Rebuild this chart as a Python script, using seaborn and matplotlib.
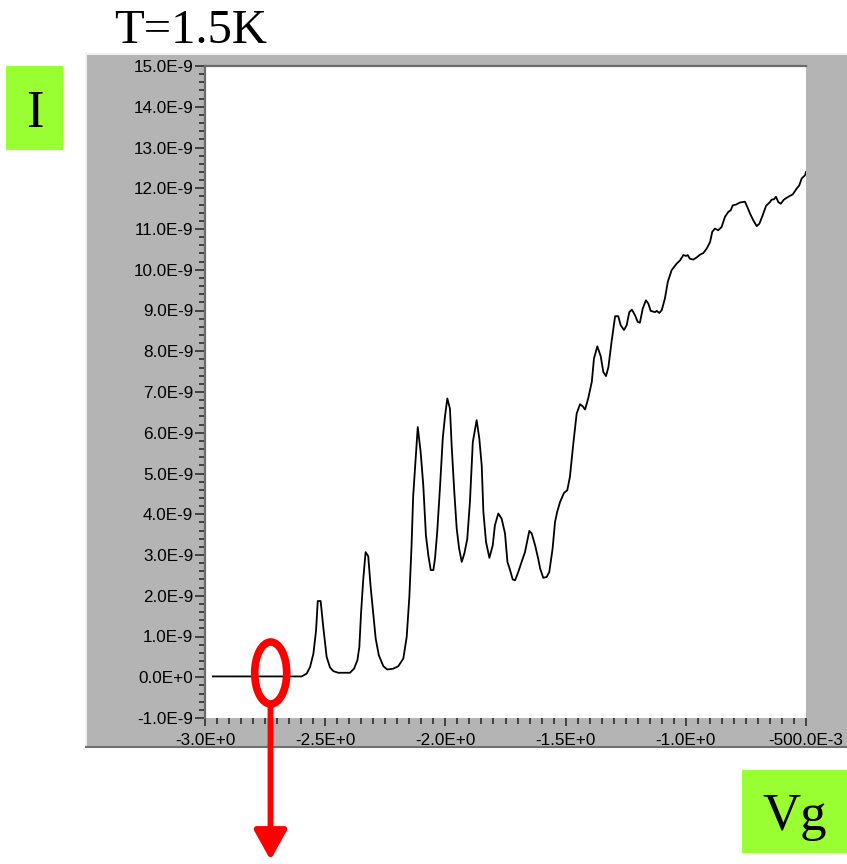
import numpy as np
import pandas as pd
import matplotlib
matplotlib.use("Agg")
import matplotlib.pyplot as plt
import seaborn as sns
from matplotlib.patches import Rectangle, Ellipse
from matplotlib.lines import Line2D
from matplotlib.ticker import FixedLocator, MultipleLocator

# ---- data (Vg in volts, I in nA) ----
vg = [-2.967, -2.598, -2.577, -2.563, -2.549, -2.538, -2.531, -2.519, -2.508, -2.494,
      -2.480, -2.466, -2.446, -2.397, -2.380, -2.366, -2.358, -2.351, -2.342, -2.332,
      -2.321, -2.311, -2.300, -2.290, -2.277, -2.258, -2.242, -2.217, -2.196, -2.175,
      -2.161, -2.150, -2.141, -2.134, -2.115, -2.103, -2.092, -2.081, -2.071, -2.061,
      -2.050, -2.043, -2.034, -2.022, -2.011, -2.002, -1.992, -1.981, -1.974, -1.963,
      -1.953, -1.943, -1.932, -1.921, -1.909, -1.898, -1.886, -1.870, -1.859, -1.849,
      -1.842, -1.831, -1.817, -1.803, -1.794, -1.780, -1.766, -1.752, -1.742, -1.731,
      -1.720, -1.710, -1.697, -1.683, -1.669, -1.651, -1.641, -1.627, -1.614, -1.606,
      -1.593, -1.579, -1.568, -1.554, -1.544, -1.535, -1.523, -1.507, -1.493, -1.482,
      -1.468, -1.454, -1.440, -1.429, -1.419, -1.406, -1.391, -1.382, -1.368, -1.354,
      -1.343, -1.332, -1.322, -1.308, -1.294, -1.281, -1.271, -1.257, -1.246, -1.235,
      -1.224, -1.211, -1.200, -1.191, -1.179, -1.166, -1.156, -1.146, -1.128, -1.121,
      -1.110, -1.100, -1.087, -1.075, -1.059, -1.038, -1.024, -1.010, -0.999, -0.992,
      -0.983, -0.969, -0.955, -0.941, -0.927, -0.913, -0.899, -0.890, -0.879, -0.865,
      -0.851, -0.837, -0.823, -0.813, -0.805, -0.791, -0.775, -0.754, -0.744, -0.733,
      -0.719, -0.705, -0.694, -0.680, -0.666, -0.650, -0.643, -0.633, -0.625, -0.615,
      -0.605, -0.592, -0.574, -0.555, -0.539, -0.528, -0.518, -0.504, -0.500]
current_nA = [0.02, 0.02, 0.09, 0.25, 0.58, 1.15, 1.87, 1.87, 1.23, 0.50,
              0.24, 0.15, 0.11, 0.11, 0.21, 0.42, 0.74, 1.56, 2.38, 3.07,
              2.97, 2.22, 1.56, 0.95, 0.54, 0.27, 0.19, 0.21, 0.27, 0.46,
              0.99, 1.97, 3.20, 4.45, 6.14, 5.53, 4.71, 3.48, 2.99, 2.63,
              2.63, 2.93, 3.57, 4.71, 5.86, 6.39, 6.84, 6.59, 5.69, 4.55,
              3.65, 3.16, 2.83, 3.04, 3.40, 4.30, 5.77, 6.31, 5.86, 5.20,
              4.06, 3.32, 2.93, 3.24, 3.73, 4.02, 3.89, 3.53, 2.83, 2.63,
              2.40, 2.38, 2.58, 2.83, 3.07, 3.59, 3.53, 3.24, 2.91, 2.67,
              2.44, 2.46, 2.58, 3.16, 3.81, 4.06, 4.30, 4.52, 4.59, 4.92,
              5.73, 6.47, 6.70, 6.65, 6.57, 6.84, 7.25, 7.82, 8.12, 7.88,
              7.49, 7.39, 7.61, 8.27, 8.86, 8.86, 8.64, 8.52, 8.64, 8.96,
              9.02, 8.88, 8.72, 8.70, 9.05, 9.25, 9.17, 8.99, 8.96, 8.99,
              8.94, 9.01, 9.29, 9.70, 9.99, 10.15, 10.23, 10.36, 10.34, 10.36,
              10.27, 10.25, 10.30, 10.37, 10.41, 10.52, 10.68, 10.93, 11.01, 10.97,
              11.05, 11.30, 11.42, 11.46, 11.58, 11.60, 11.65, 11.67, 11.54, 11.38,
              11.21, 11.07, 11.13, 11.34, 11.57, 11.66, 11.72, 11.73, 11.79, 11.66,
              11.62, 11.72, 11.79, 11.85, 11.99, 12.07, 12.24, 12.32, 12.40]

x_ticks = [-3.0, -2.5, -2.0, -1.5, -1.0, -0.5]
x_labels = ["-3.0E+0", "-2.5E+0", "-2.0E+0", "-1.5E+0", "-1.0E+0", "-500.0E-3"]
y_ticks = list(range(-1, 16))
y_labels = ["-1.0E-9", "0.0E+0"] + [f"{v}.0E-9" for v in range(1, 16)]

title_text = "T=1.5K"
ylabel_text = "I"
xlabel_text = "Vg"

df = pd.DataFrame({"Vg": vg, "I": current_nA})

W, H = 847, 864
fig = plt.figure(figsize=(W / 100, H / 100), dpi=100)
fig.patch.set_facecolor("white")

def fx(px):
    return px / W

def fy(py):
    return 1 - py / H

# grey panel
panel = Rectangle((fx(86), fy(747)), 1 - fx(86), fy(54) - fy(747),
                  transform=fig.transFigure, facecolor="#b4b4b4", edgecolor="none", zorder=-2)
fig.add_artist(panel)
fig.add_artist(Line2D([fx(86), fx(86)], [fy(747), fy(54)], transform=fig.transFigure,
                      color="#f0f0f0", lw=1.5, zorder=-1))
fig.add_artist(Line2D([fx(86), 1], [fy(54), fy(54)], transform=fig.transFigure,
                      color="#f0f0f0", lw=1.5, zorder=-1))
fig.add_artist(Line2D([fx(86), 1], [fy(747), fy(747)], transform=fig.transFigure,
                      color="#707070", lw=1.5, zorder=-1))

ax = fig.add_axes([fx(205), fy(718), fx(806) - fx(205), fy(66) - fy(718)])
ax.set_facecolor("white")

sns.lineplot(data=df, x="Vg", y="I", ax=ax, color="black", lw=1.3,
             sort=False, estimator=None, legend=False)

ax.set_xlim(-3.0, -0.5)
ax.set_ylim(-1, 15)
ax.set_xlabel("")
ax.set_ylabel("")

ax.xaxis.set_major_locator(FixedLocator(x_ticks))
ax.set_xticklabels(x_labels)
ax.xaxis.set_minor_locator(MultipleLocator(0.05))
ax.yaxis.set_major_locator(FixedLocator(y_ticks))
ax.set_yticklabels(y_labels)
ax.yaxis.set_minor_locator(MultipleLocator(0.2))

for lab in ax.get_xticklabels() + ax.get_yticklabels():
    lab.set_fontfamily("Liberation Sans")
    lab.set_fontsize(12.3)
    lab.set_color("black")

ax.tick_params(axis="y", which="major", direction="out", length=7, width=1.1,
               color="#222222", pad=1.5)
ax.tick_params(axis="y", which="minor", direction="out", length=4.5, width=1.1,
               color="#222222")
ax.tick_params(axis="x", which="major", direction="out", length=6, width=1.1,
               color="#222222", pad=5)
ax.tick_params(axis="x", which="minor", direction="out", length=4, width=1.1,
               color="#222222")

for side in ["bottom", "right"]:
    ax.spines[side].set_visible(False)
for side in ["top", "left"]:
    ax.spines[side].set_color("#6a6a6a")
    ax.spines[side].set_linewidth(1.6)

# title
fig.text(fx(191), fy(43), title_text, ha="center", va="baseline",
         family="Liberation Serif", size=35, color="black")

# green label boxes
green = "#99ff33"
fig.add_artist(Rectangle((fx(6), fy(150)), fx(63) - fx(6), fy(66) - fy(150),
                         transform=fig.transFigure, facecolor=green, edgecolor="none"))
fig.text(fx(35), fy(127), ylabel_text, ha="center", va="baseline",
         family="Liberation Serif", size=38, color="black")
fig.add_artist(Rectangle((fx(742), fy(853)), 1 - fx(742), fy(770) - fy(853),
                         transform=fig.transFigure, facecolor=green, edgecolor="none"))
fig.text(fx(795), fy(830), xlabel_text, ha="center", va="baseline",
         family="Liberation Serif", size=38, color="black")

# red ellipse and arrow
fig.add_artist(Ellipse((fx(270.7), fy(673)), 32 / W, 62 / H, transform=fig.transFigure,
                       facecolor="none", edgecolor="#ff0000", lw=5.5, zorder=5))
ax.annotate("", xy=(270.5, H - 860), xycoords="figure pixels",
            xytext=(270.5, H - 704), textcoords="figure pixels",
            arrowprops=dict(arrowstyle="-|>,head_length=0.9,head_width=0.5",
                            color="#ff0000", lw=4.2, shrinkA=0, shrinkB=0,
                            mutation_scale=20),
            annotation_clip=False, zorder=5)

fig.savefig("out.png", dpi=100)
